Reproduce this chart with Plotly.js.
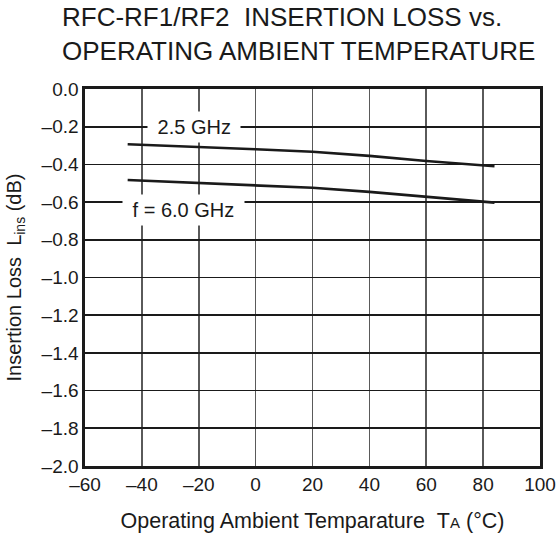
<!DOCTYPE html>
<html>
<head>
<meta charset="utf-8">
<script src="https://cdn.plot.ly/plotly-3.0.1.min.js"></script>
<style>html,body{margin:0;padding:0;background:#fff;}#chart{width:556px;height:534px;}</style>
</head>
<body>
<div id="chart"></div>
<script>
// Data
var temps = [-45, -20, 0, 20, 40, 60, 84];
var loss25 = [-0.293, -0.31, -0.32, -0.333, -0.355, -0.382, -0.41];
var loss60 = [-0.483, -0.50, -0.512, -0.524, -0.546, -0.573, -0.603];
var xTickVals = [-60, -40, -20, 0, 20, 40, 60, 80, 100];
var xTickText = ['\u201360', '\u201340', '\u201320', '0', '20', '40', '60', '80', '100'];
var yTickVals = [0, -0.2, -0.4, -0.6, -0.8, -1.0, -1.2, -1.4, -1.6, -1.8, -2.0];
var yTickText = ['0.0', '\u20130.2', '\u20130.4', '\u20130.6', '\u20130.8', '\u20131.0', '\u20131.2', '\u20131.4', '\u20131.6', '\u20131.8', '\u20132.0'];
var labels = [
  {text: '\u00a02.5 GHz\u00a0', x: -21.7, y: -0.2},
  {text: '\u00a0f = 6.0 GHz\u00a0', x: -25.2, y: -0.642}
];

var font = 'Liberation Sans, Arial, Helvetica, sans-serif';
var traces = [
  {x: temps, y: loss25, mode: 'lines', line: {color: '#1a1a1a', width: 2.6}, hoverinfo: 'skip'},
  {x: temps, y: loss60, mode: 'lines', line: {color: '#1a1a1a', width: 2.6}, hoverinfo: 'skip'}
];

var annotations = labels.map(function (l) {
  return {x: l.x, y: l.y, xref: 'x', yref: 'y', text: l.text, showarrow: false,
    bgcolor: '#ffffff', borderpad: 4, font: {family: font, size: 20, color: '#1a1a1a'}};
});

var layout = {
  width: 556, height: 534,
  margin: {l: 85, r: 16, t: 89, b: 68, pad: 0},
  paper_bgcolor: '#fff', plot_bgcolor: '#fff',
  showlegend: false,
  title: {
    text: 'RFC-RF1/RF2\u00a0\u00a0INSERTION LOSS vs.<br>OPERATING AMBIENT TEMPERATURE',
    font: {family: font, size: 26, color: '#1a1a1a'},
    x: 62 / 556, xanchor: 'left', xref: 'container',
    y: 1 - 26 / 534, yanchor: 'top', yref: 'container'
  },
  xaxis: {
    range: [-60, 100], tickvals: xTickVals, ticktext: xTickText,
    showgrid: true, gridcolor: '#5a5a5a', gridwidth: 1.6,
    showline: true, linecolor: '#1a1a1a', linewidth: 2.6, mirror: true,
    ticks: '', zeroline: false, fixedrange: true,
    tickfont: {family: font, size: 19, color: '#1a1a1a'},
    title: {text: 'Operating Ambient Temparature\u00a0\u00a0T<span style="font-size:15px">A</span> (\u00b0C)',
      font: {family: font, size: 21.5, color: '#1a1a1a'}, standoff: 19}
  },
  yaxis: {
    range: [-2, 0], tickvals: yTickVals, ticktext: yTickText,
    showgrid: true, gridcolor: '#1a1a1a', gridwidth: 1.6,
    showline: true, linecolor: '#1a1a1a', linewidth: 2.6, mirror: true,
    ticks: '', zeroline: false, fixedrange: true,
    tickfont: {family: font, size: 19, color: '#1a1a1a'},
    title: {text: 'Insertion Loss\u00a0\u00a0L<sub>ins</sub> (dB)',
      font: {family: font, size: 20, color: '#1a1a1a'}, standoff: 15}
  },
  annotations: annotations
};

Plotly.newPlot('chart', traces, layout, {displayModeBar: false, staticPlot: true});
</script>
</body>
</html>
